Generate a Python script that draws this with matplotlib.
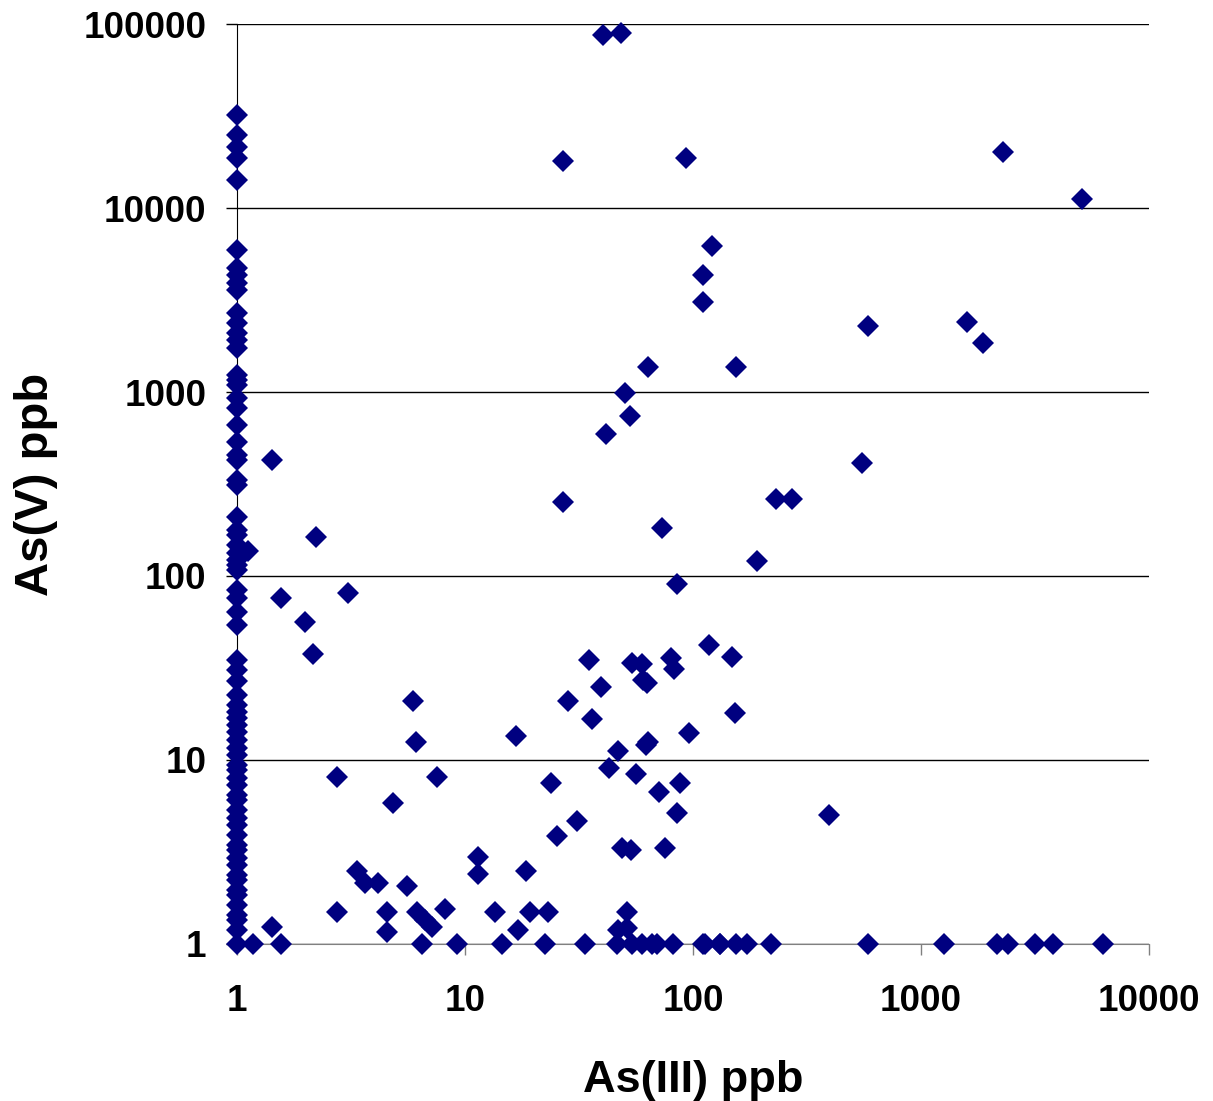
import matplotlib
matplotlib.use('Agg')
import matplotlib.pyplot as plt

plt.rcParams['font.family'] = ['Liberation Sans', 'DejaVu Sans']

# samples with As(III) at the detection floor (1 ppb)
col_as5 = [32000, 24900, 21400, 18700, 14200, 5910, 4720, 4320, 3910, 3580,
           2690, 2370, 2090, 1920, 1730, 1240, 1160, 1090, 927, 819, 662, 535,
           455, 427, 332, 312, 209, 178, 167, 147, 133, 122, 115, 108, 84, 76,
           64, 54, 35, 31, 27, 22.6, 19.9, 18.2, 16.9, 15.5, 14.2, 12.8, 11.6,
           10.6, 9.4, 8.8, 8.0, 7.3, 6.45, 6.06, 5.35, 4.84, 4.43, 3.91, 3.45,
           3.24, 2.93, 2.69, 2.37, 2.23, 1.97, 1.85, 1.63, 1.44, 1.35, 1.19, 1]

# other samples
as3 = [40.3, 48.3, 26.9, 93.2, 2290, 5080, 121, 111, 111, 586, 1590, 1870,
       63.5, 154, 50.3, 52.9, 41.5, 551, 1.42, 26.9, 231, 272, 73.1, 2.22,
       1.12, 191, 85.1, 3.07, 1.56, 1.99, 2.15,
       35.0, 39.4, 28.3, 36.1, 16.7, 46.9, 63.5, 62.5, 95.8, 42.9, 56.1, 23.8,
       71.2, 87.7, 85.1, 30.9, 25.2, 48.7, 53.3, 75.6, 54.2, 59.9, 62.7, 60.2,
       80.1, 82.8, 118, 148, 153,
       5.92, 6.10, 2.75, 7.54, 4.83, 395, 11.4, 11.4, 18.6, 3.35, 3.64, 4.17,
       5.55, 2.74, 4.53, 4.53, 6.14, 6.66, 7.17, 8.17, 13.5, 19.3, 23.2, 17.1,
       51.2, 51.2, 1.43, 47.0]
as5 = [87100, 89300, 18000, 18700, 20200, 11200, 6210, 4320, 3080, 2290,
       2400, 1850, 1370, 1370, 988, 741, 591, 411, 427, 253, 262, 262, 182,
       163, 137, 121, 90.5, 80.9, 76, 56.2, 37.7,
       35, 25.0, 20.9, 16.8, 13.5, 11.2, 12.5, 12.0, 14.0, 9.0, 8.36, 7.47,
       6.70, 7.47, 5.17, 4.64, 3.86, 3.32, 3.24, 3.32, 33.8, 33.1, 26.1, 27.2,
       35.7, 31.1, 42.2, 36.4, 18.1,
       20.9, 12.5, 8.09, 8.09, 5.84, 5.02, 2.97, 2.40, 2.49, 2.49, 2.14, 2.14,
       2.07, 1.50, 1.50, 1.16, 1.50, 1.35, 1.24, 1.54, 1.50, 1.50, 1.50, 1.19,
       1.50, 1.22, 1.24, 1.19]

# samples with As(V) at the detection floor (1 ppb)
row_as3 = [1.17, 1.56, 6.50, 9.25, 14.5, 22.4, 33.6, 46.3, 53.8, 59.6, 65.9,
           69.3, 82.0, 111, 113, 131, 132, 154, 173, 220, 584, 1262, 2148,
           2415, 3162, 3805, 6270]

x_ticks = [1, 10, 100, 1000, 10000]
y_ticks = [1, 10, 100, 1000, 10000, 100000]

fig = plt.figure(figsize=(12.13, 11.01), dpi=100)
ax = fig.add_axes([0.1954, 0.1426, 0.7518, 0.8356])

mk = dict(marker='D', ms=11, color='#000080', mew=0, ls='none', clip_on=False, zorder=3)
ax.plot([1] * len(col_as5), col_as5, **mk)
ax.plot(as3, as5, **mk)
ax.plot(row_as3, [1] * len(row_as3), **mk)

ax.set_xscale('log')
ax.set_yscale('log')
ax.set_xlim(1, 10000)
ax.set_ylim(1, 100000)
ax.set_xticks(x_ticks)
ax.set_xticklabels([str(v) for v in x_ticks])
ax.set_yticks(y_ticks)
ax.set_yticklabels([str(v) for v in y_ticks])
ax.minorticks_off()

ax.grid(axis='y', color='black', lw=1)
ax.set_axisbelow(True)
for s in ['top', 'right']:
    ax.spines[s].set_visible(False)
ax.spines['left'].set_color('black')
ax.spines['bottom'].set_color('#808080')
ax.tick_params(axis='y', length=8, width=1, color='black', pad=14)
ax.tick_params(axis='x', length=8, width=1, color='#808080', pad=21)
for lab in ax.get_xticklabels() + ax.get_yticklabels():
    lab.set_fontsize(26.5)
    lab.set_fontweight('bold')

ax.set_xlabel('As(III) ppb', fontsize=32.5, fontweight='bold', labelpad=29)
ax.set_ylabel('As(V) ppb', fontsize=34, fontweight='bold', labelpad=18)

plt.savefig('out.png', dpi=100)
